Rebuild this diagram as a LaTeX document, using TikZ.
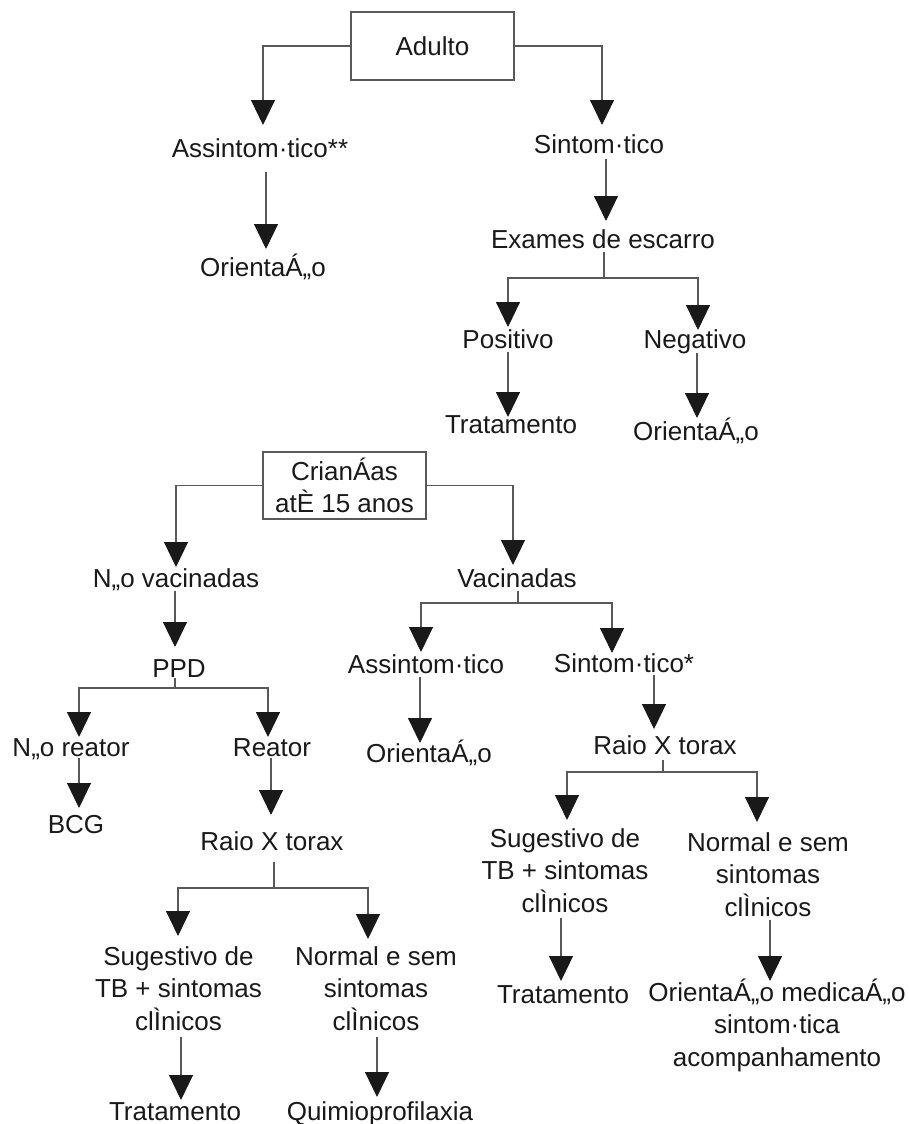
\documentclass[tikz,border=0pt]{standalone}
\usepackage{fontspec}
\setmainfont{Liberation Sans}
\usetikzlibrary{arrows.meta,calc}
\begin{document}
\begin{tikzpicture}[x=1pt,y=-1pt,
  txt/.style={anchor=base,inner sep=0pt,align=center,font=\fontsize{26}{32.5}\selectfont,text=black!90},
  boxn/.style={draw=black!65,line width=1.1pt,inner sep=0pt,minimum width=163pt,align=center,font=\fontsize{26}{32.5}\selectfont,text=black!90},
  ln/.style={draw=black!65,line width=1.1pt},
  arr/.style={ln,-{Triangle[width=24pt,length=25pt,color=black!90]}}]
\useasboundingbox (0,0) rectangle (909,1124);

% ---- Adult tree ----
\node[boxn,minimum height=68pt] (adulto) at (432.5,46) {Adulto};
\node[txt] (assint)  at (260,157) {Assintom·tico**};
\node[txt] (orient1) at (263,276) {OrientaÁ„o};
\node[txt] (sint)    at (599,153) {Sintom·tico};
\node[txt] (exames)  at (603,248) {Exames de escarro};
\node[txt] (posit)   at (508,348) {Positivo};
\node[txt] (trat1)   at (511,433) {Tratamento};
\node[txt] (negat)   at (695,348) {Negativo};
\node[txt] (orient2) at (696,440) {OrientaÁ„o};

\draw[arr] (adulto.west) -| ($(assint.base)+(3,-32)$);
\draw[arr] (adulto.east) -| ($(sint.base)+(3,-28)$);
\draw[arr] ($(assint.base)+(6,15)$) -- ($(orient1.base)+(3,-27)$);
\draw[arr] ($(sint.base)+(7,6)$) -- ($(exames.base)+(3,-27)$);
\draw[ln] ($(exames.base)+(1,4)$) -- ($(exames.base)+(1,30)$);
\draw[arr] ($(exames.base)+(1,30)$) -| ($(posit.base)+(0,-21)$);
\draw[arr] ($(exames.base)+(1,30)$) -| ($(negat.base)+(3,-18)$);
\draw[arr] ($(posit.base)+(0,4)$) -- ($(trat1.base)+(-3,-16)$);
\draw[arr] ($(negat.base)+(2,5)$) -- ($(orient2.base)+(1,-22)$);

% ---- Children tree ----
\node[boxn,minimum height=67pt] (crian) at (344.5,485.5) {CrianÁas\\atÈ 15 anos};
\node[txt] (naovac)  at (176,587) {N„o vacinadas};
\node[txt] (vac)     at (517,587) {Vacinadas};
\node[txt] (ppd)     at (179,677) {PPD};
\node[txt] (naore)   at (71,756)  {N„o reator};
\node[txt] (reator)  at (272,756) {Reator};
\node[txt] (bcg)     at (76,833)  {BCG};
\node[txt] (raio1)   at (272,850) {Raio X torax};
\node[txt] (sug1)    at (178.5,1030) {Sugestivo de\\TB + sintomas\\clÌnicos};
\node[txt] (norm1)   at (376,1030) {Normal e sem\\sintomas\\clÌnicos};
\node[txt] (trat2)   at (175,1120) {Tratamento};
\node[txt] (quimio)  at (380,1120) {Quimioprofilaxia};
\node[txt] (assint2) at (426,673) {Assintom·tico};
\node[txt] (sint2)   at (624,672) {Sintom·tico*};
\node[txt] (orient3) at (429,762) {OrientaÁ„o};
\node[txt] (raio2)   at (665,754) {Raio X torax};
\node[txt] (sug2)    at (565,912) {Sugestivo de\\TB + sintomas\\clÌnicos};
\node[txt] (norm2)   at (768,916) {Normal e sem\\sintomas\\clÌnicos};
\node[txt] (trat3)   at (563,1003) {Tratamento};
\node[txt] (orient4) at (777,1066) {OrientaÁ„o medicaÁ„o\\sintom·tica\\acompanhamento};

\draw[arr] (crian.west) -| ($(naovac.base)+(0,-20)$);
\draw[arr] (crian.east) -| ($(vac.base)+(-4,-22)$);
\draw[arr] ($(naovac.base)+(-1,4)$) -- ($(ppd.base)+(-4,-30)$);
\draw[ln] ($(ppd.base)+(-4,1)$) -- ($(ppd.base)+(-4,11)$);
\draw[arr] ($(ppd.base)+(-4,11)$) -| ($(naore.base)+(8,-19)$);
\draw[arr] ($(ppd.base)+(-4,11)$) -| ($(reator.base)+(-4,-19)$);
\draw[arr] ($(naore.base)+(8,2)$) -- ($(bcg.base)+(3,-25)$);
\draw[arr] ($(reator.base)+(-1,2)$) -- ($(raio1.base)+(-1,-35)$);
\draw[ln] ($(raio1.base)+(2,12)$) -- ($(raio1.base)+(2,38)$);
\draw[arr] ($(raio1.base)+(2,38)$) -| ($(sug1.base)+(-0.5,-94)$);
\draw[arr] ($(raio1.base)+(2,38)$) -| ($(norm1.base)+(-8,-91)$);
\draw[arr] ($(sug1.base)+(2.5,7)$) -- ($(trat2.base)+(6,-20)$);
\draw[arr] ($(norm1.base)+(1,7)$) -- ($(quimio.base)+(-3,-23)$);
\draw[ln] ($(vac.base)+(1,4)$) -- ($(vac.base)+(1,16)$);
\draw[arr] ($(vac.base)+(1,16)$) -| ($(assint2.base)+(-5,-21)$);
\draw[arr] ($(vac.base)+(1,16)$) -| ($(sint2.base)+(-12,-19)$);
\draw[arr] ($(assint2.base)+(-6,4)$) -- ($(orient3.base)+(-9,-19)$);
\draw[arr] ($(sint2.base)+(30,3)$) -- ($(raio2.base)+(-11,-25)$);
\draw[ln] ($(raio2.base)+(-2,6)$) -- ($(raio2.base)+(-2,18)$);
\draw[arr] ($(raio2.base)+(-2,18)$) -| ($(sug2.base)+(2,-92)$);
\draw[arr] ($(raio2.base)+(-2,18)$) -| ($(norm2.base)+(-11,-94)$);
\draw[arr] ($(sug2.base)+(-4,6)$) -- ($(trat3.base)+(-2,-22)$);
\draw[arr] ($(norm2.base)+(2,4)$) -- ($(orient4.base)+(-7,-85)$);
\end{tikzpicture}
\end{document}
